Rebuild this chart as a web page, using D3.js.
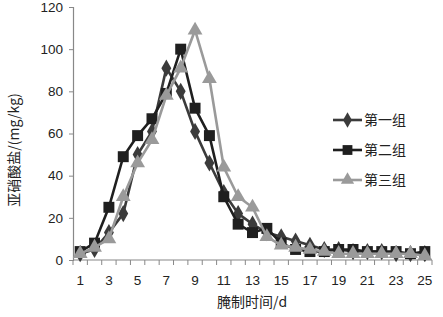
<!DOCTYPE html>
<html><head><meta charset="utf-8">
<script src="https://cdn.jsdelivr.net/npm/d3@7"></script>
<style>body{margin:0;background:#fff}svg{display:block}</style>
</head><body>
<svg id="c" width="443" height="317"></svg>
<script>
const days = d3.range(1, 26);
const seriesNames = ["第一组", "第二组", "第三组"];
const group1 = [3,5,13,22,50,61,91,80,61,46,32,22,17,13,11,9,7,5,5,4,4,4,3,3,3];
const group2 = [4,8,25,49,59,67,79,100,72,59,30,17,13,15,8,5,4,4,5,5,4,4,4,3,4];
const group3 = [3,6,10,30,46,57,78,91,109,86,44,30,25,11,7,6,5,4,3,3,3,3,3,3,2];
const yTicks = [0,20,40,60,80,100,120];
const xLabelDays = [1,3,5,7,9,11,13,15,17,19,21,23,25];

const svg = d3.select("#c");
const m = {l:73, r:432, t:7, b:260};
const x = d3.scaleBand().domain(days).range([m.l, m.r]);
const y = d3.scaleLinear().domain([0,120]).range([m.b, m.t]);
const font = "'Liberation Sans', Arial, sans-serif";
const cjk = "'Noto Sans CJK SC', sans-serif";

// y axis
const ya = svg.append("g").attr("transform", `translate(${m.l},0)`)
  .call(d3.axisLeft(y).tickValues(yTicks).tickSize(4).tickPadding(6));
ya.select(".domain").attr("stroke", "#888").attr("stroke-width", 1.2);
ya.selectAll(".tick line").attr("stroke", "#888");
ya.selectAll("text").attr("font-family", font).attr("font-size", 13.5).attr("fill", "#222");

// x axis
const xa = svg.append("g").attr("transform", `translate(0,${m.b})`)
  .call(d3.axisBottom(x).tickValues(xLabelDays).tickSize(0).tickPadding(15));
xa.select(".domain").attr("stroke", "#888").attr("stroke-width", 1.2).attr("d", `M${m.l},0H${m.r}`);
xa.selectAll("text").attr("font-family", font).attr("font-size", 13.5).attr("fill", "#222");
xa.selectAll(".bnd").data(days.concat([26])).enter().append("line")
  .attr("x1", (d,i) => m.l + i * x.step()).attr("x2", (d,i) => m.l + i * x.step())
  .attr("y1", 0).attr("y2", 5).attr("stroke", "#888");

const cx = d => x(d) + x.bandwidth()/2;
const defs = [
  {name: seriesNames[0], vals: group1, color: "#3b3b3b", sym: d3.symbolDiamond, size: 85},
  {name: seriesNames[1], vals: group2, color: "#1f1f1f", sym: d3.symbolSquare, size: 120},
  {name: seriesNames[2], vals: group3, color: "#9a9a9a", sym: d3.symbolTriangle, size: 95},
];
const line = d3.line().x((v,i) => cx(days[i])).y(v => y(v));
defs.forEach(s => {
  const g = svg.append("g");
  g.append("path").attr("d", line(s.vals)).attr("fill", "none")
    .attr("stroke", s.color).attr("stroke-width", 2.6);
  g.selectAll("path.m").data(s.vals).enter().append("path").attr("class","m")
    .attr("d", d3.symbol().type(s.sym).size(s.size))
    .attr("transform", (v,i) => `translate(${cx(days[i])},${y(v)})`)
    .attr("fill", s.color);
});

// legend
const lg = svg.append("g");
defs.forEach((s, i) => {
  const yy = 120 + i * 30;
  lg.append("line").attr("x1", 333).attr("x2", 362).attr("y1", yy).attr("y2", yy)
    .attr("stroke", s.color).attr("stroke-width", 2.6);
  lg.append("path").attr("d", d3.symbol().type(s.sym).size(s.size * 0.8)())
    .attr("transform", `translate(347.5,${yy})`).attr("fill", s.color);
  lg.append("text").attr("x", 364).attr("y", yy + 5).text(s.name)
    .attr("font-family", cjk).attr("font-size", 14).attr("fill", "#222");
});

// titles
svg.append("text").attr("x", 252).attr("y", 307).attr("text-anchor", "middle")
  .attr("font-family", cjk).attr("font-size", 14).attr("fill", "#222").text("腌制时间/d");
svg.append("text").attr("transform", "translate(19,150) rotate(-90)").attr("text-anchor", "middle")
  .attr("font-family", cjk).attr("font-size", 14).attr("fill", "#222").text("亚硝酸盐/(mg/kg)");
</script>
</body></html>
